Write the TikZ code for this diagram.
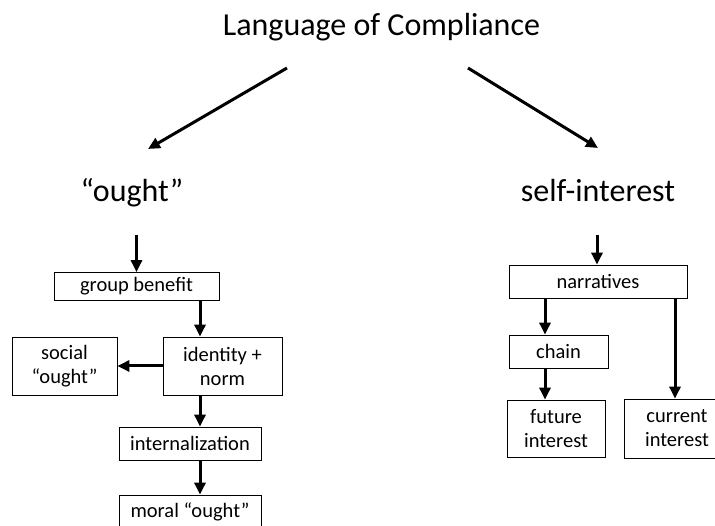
\documentclass[tikz,border=0pt]{standalone}
\usepackage{fontspec}
\setmainfont{Carlito}
\usetikzlibrary{arrows.meta, positioning}

\begin{document}
\begin{tikzpicture}[x=1pt, y=-1pt,
    box/.style={draw, line width=0.8pt, inner sep=0pt, align=center, font=\fontsize{20.5}{24}\selectfont},
    heading/.style={anchor=base, font=\fontsize{32}{36}\selectfont},
    arr/.style={line width=3pt, -{Triangle[length=12pt, width=11pt]}}]
    \useasboundingbox (0,0) rectangle (715,526);
    % headings
    \node[heading] (title) at (381.5,36) {Language of Compliance};
    \node[heading] (ought) at (132,202) {“ought”};
    \node[heading] (self) at (598,202) {self-interest};
    \coordinate (tl) at (287,68);
    \coordinate (ol) at (148,149);
    \coordinate (tr) at (468,68);
    \coordinate (sr) at (598,148);
    \draw[arr] (tl) -- (ol);
    \draw[arr] (tr) -- (sr);
    % left branch
    \node[box, minimum width=165pt, minimum height=28pt] (group) at (136.5,286.5) {group benefit};
    \node[box, minimum width=119pt, minimum height=58pt] (identity) at (222.5,366) {identity +\\norm};
    \node[box, minimum width=105pt, minimum height=58pt] (social) at (64.5,366) {social\\“ought”};
    \node[box, minimum width=142pt, minimum height=33pt] (intern) at (190,443.5) {internalization};
    \node[box, minimum width=142pt, minimum height=33pt] (moral) at (190,511.5) {moral “ought”};
    \coordinate (oughtin) at (136.5,235);
    \coordinate (lcol) at (200,0);
    \draw[arr] (oughtin) -- (group.north);
    \draw[arr] (group.south -| lcol) -- (identity.north -| lcol);
    \draw[arr] (identity.west) -- (social.east);
    \draw[arr] (identity.south -| lcol) -- (intern.north -| lcol);
    \draw[arr] (intern.south -| lcol) -- (moral.north -| lcol);
    % right branch
    \node[box, minimum width=178pt, minimum height=33pt] (narr) at (598,281.5) {narratives};
    \node[box, minimum width=99pt, minimum height=33pt] (chain) at (558.5,351.5) {chain};
    \node[box, minimum width=98pt, minimum height=57pt] (future) at (556,428.5) {future\\interest};
    \node[box, minimum width=106pt, minimum height=59pt] (current) at (677,428.5) {current\\interest};
    \coordinate (selfin) at (597,235);
    \coordinate (rcola) at (545,0);
    \coordinate (rcolb) at (675,0);
    \draw[arr] (selfin) -- (narr.north -| selfin);
    \draw[arr] (narr.south -| rcola) -- (chain.north -| rcola);
    \draw[arr] (chain.south -| rcola) -- (future.north -| rcola);
    \draw[arr] (narr.south -| rcolb) -- (current.north -| rcolb);
\end{tikzpicture}
\end{document}
